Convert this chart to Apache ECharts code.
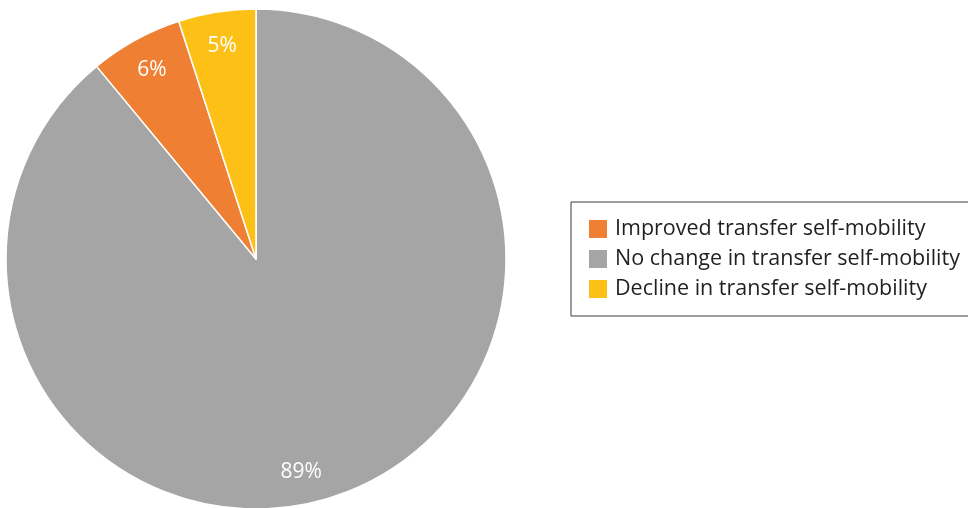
<!DOCTYPE html>
<html><head><meta charset="utf-8">
<script src="https://cdn.jsdelivr.net/npm/echarts@6/dist/echarts.min.js"></script>
<style>html,body{margin:0;padding:0;background:#fff}#c{width:968px;height:508px}</style>
</head><body><div id="c"></div>
<script>
const categories = ['No change in transfer self-mobility','Improved transfer self-mobility','Decline in transfer self-mobility'];
const values = [89, 6, 5];
const legendOrder = ['Improved transfer self-mobility','No change in transfer self-mobility','Decline in transfer self-mobility'];
const colors = ['#A5A5A5','#EE7F33','#FCC016'];

const chart = echarts.init(document.getElementById('c'));
const data = categories.map((n,i)=>({name:n,value:values[i],itemStyle:{color:colors[i]}}));
const labelData = categories.map((n,i)=>({name:n,value:values[i],
  itemStyle:{color:'rgba(0,0,0,0)'},
  label: i===0 ? {offset:[-28,10]} : {}}));
chart.setOption({
  animation:false,
  legend:{
    orient:'vertical', left:571, top:202,
    data:legendOrder,
    icon:'rect', itemWidth:20, itemHeight:20, itemGap:8,
    padding:[16,40,16,16],
    borderColor:'#3a3a3a', borderWidth:1,
    textStyle:{fontFamily:'Open Sans', fontSize:21.5, color:'#231F20', padding:[0,0,0,2]}
  },
  series:[
    {type:'pie', center:[256,259], radius:[0,250], startAngle:90, clockwise:true,
     data:data, label:{show:false}, labelLine:{show:false},
     itemStyle:{borderColor:'#fff', borderWidth:1.5}, silent:true},
    {type:'pie', center:[256,259], radius:[176,250], startAngle:90, clockwise:true,
     data:labelData, silent:true, legendHoverLink:false,
     label:{show:true, position:'inside', formatter:'{c}%', color:'#fff', fontFamily:'Open Sans', fontSize:21},
     labelLine:{show:false}, itemStyle:{borderWidth:0}}
  ]
});
</script></body></html>
